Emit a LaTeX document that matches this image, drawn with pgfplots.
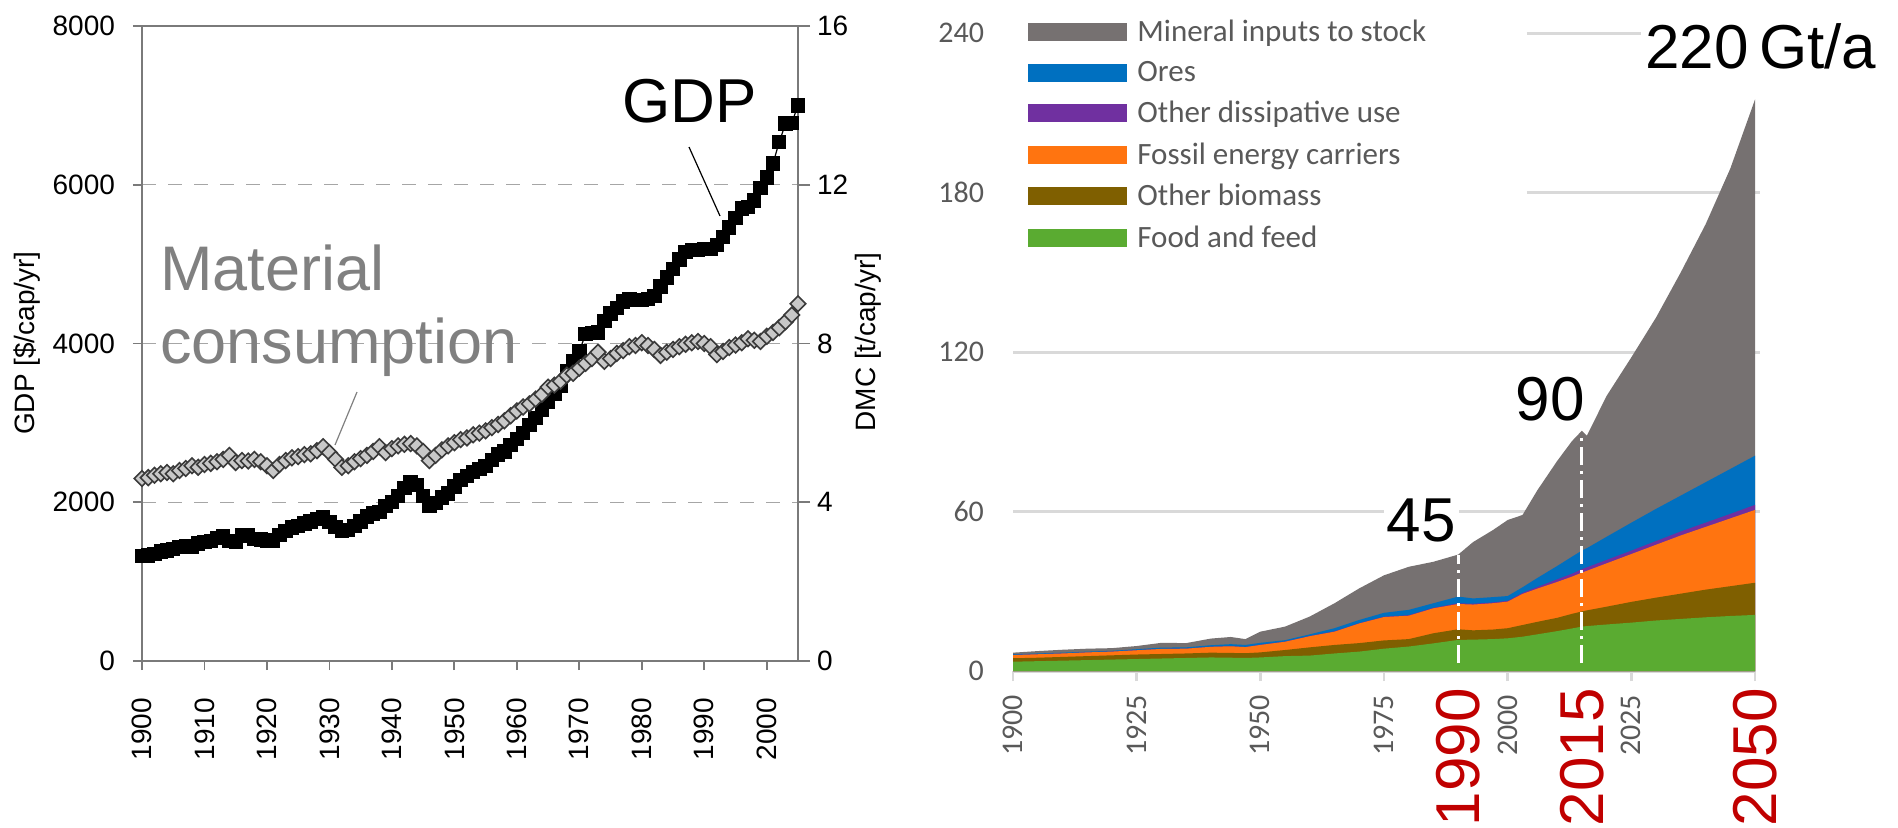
\documentclass[border=0pt]{standalone}
\usepackage{fontspec}
\setmainfont{Liberation Sans}
\newfontfamily\carlito{Carlito}
\usepackage{pgfplots}
\pgfplotsset{compat=1.18}
\usepackage{pgfplotstable}

\definecolor{axgray}{HTML}{7A7A7A}
\definecolor{gridgray}{HTML}{A6A6A6}
\definecolor{diafill}{HTML}{C8C8C8}
\definecolor{diadraw}{HTML}{3A3A3A}
\definecolor{matgray}{HTML}{808080}
\definecolor{lightgrid}{HTML}{D9D9D9}
\definecolor{tickgray}{HTML}{595959}
\definecolor{darkred}{HTML}{C00000}
\definecolor{cmineral}{HTML}{767171}
\definecolor{cores}{HTML}{0070C0}
\definecolor{cdiss}{HTML}{7030A0}
\definecolor{cfossil}{HTML}{FF7410}
\definecolor{cbiomass}{HTML}{7F5F00}
\definecolor{cfood}{HTML}{5AAB31}

\pgfplotstableread{
year gdp dmc
1900 1320 4.60
1901 1330 4.62
1902 1350 4.68
1903 1380 4.72
1904 1390 4.75
1905 1410 4.72
1906 1440 4.80
1907 1450 4.85
1908 1440 4.92
1909 1480 4.88
1910 1500 4.95
1911 1510 4.98
1912 1550 5.02
1913 1570 5.08
1914 1510 5.18
1915 1500 5.00
1916 1590 5.05
1917 1580 5.04
1918 1540 5.08
1919 1530 5.02
1920 1520 4.92
1921 1520 4.80
1922 1590 4.95
1923 1640 5.05
1924 1680 5.12
1925 1700 5.15
1926 1730 5.20
1927 1760 5.22
1928 1790 5.30
1929 1810 5.40
1930 1750 5.25
1931 1690 5.08
1932 1640 4.88
1933 1650 4.92
1934 1700 5.02
1935 1760 5.10
1936 1820 5.18
1937 1860 5.28
1938 1880 5.40
1939 1950 5.25
1940 2000 5.35
1941 2080 5.42
1942 2180 5.46
1943 2250 5.48
1944 2220 5.42
1945 2080 5.28
1946 1960 5.05
1947 1990 5.18
1948 2060 5.32
1949 2110 5.42
1950 2200 5.50
1951 2280 5.58
1952 2330 5.62
1953 2380 5.70
1954 2420 5.74
1955 2460 5.80
1956 2530 5.88
1957 2600 5.96
1958 2640 6.05
1959 2720 6.18
1960 2800 6.30
1961 2870 6.40
1962 2970 6.48
1963 3060 6.60
1964 3170 6.72
1965 3260 6.90
1966 3370 6.95
1967 3470 7.05
1968 3650 7.20
1969 3780 7.25
1970 3900 7.38
1971 4120 7.50
1972 4130 7.62
1973 4140 7.78
1974 4280 7.55
1975 4380 7.62
1976 4450 7.75
1977 4530 7.82
1978 4560 7.92
1979 4550 7.95
1980 4550 8.02
1981 4560 7.95
1982 4600 7.85
1983 4720 7.70
1984 4830 7.78
1985 4940 7.85
1986 5060 7.92
1987 5150 7.98
1988 5180 8.02
1989 5180 8.05
1990 5190 8.00
1991 5190 7.92
1992 5240 7.72
1993 5340 7.80
1994 5460 7.90
1995 5580 7.96
1996 5700 8.02
1997 5720 8.12
1998 5800 8.08
1999 5960 8.05
2000 6090 8.18
2001 6270 8.28
2002 6540 8.40
2003 6770 8.55
2004 6780 8.72
2005 7000 9.00
}\leftdata

\pgfplotstableread{
year G B O P U T
1900 3.5 4.8 6.0 6.05 6.3 6.9
1905 3.7 5.0 6.3 6.35 6.6 7.5
1910 3.9 5.3 6.6 6.65 6.9 8.0
1915 4.1 5.6 7.0 7.05 7.3 8.4
1920 4.3 5.9 7.3 7.35 7.6 8.6
1925 4.5 6.2 7.8 7.85 8.2 9.4
1930 4.7 6.4 8.3 8.35 8.8 10.6
1935 4.9 6.6 8.4 8.45 8.9 10.5
1940 5.1 6.9 9.1 9.15 9.7 12.2
1944 5.0 6.8 9.3 9.35 10.1 12.8
1947 4.9 6.7 9.0 9.05 9.8 12.0
1950 5.1 7.0 9.8 9.9 10.6 14.8
1955 5.6 7.9 11.0 11.1 11.6 16.7
1960 5.8 8.9 13.1 13.2 13.8 20.5
1965 6.6 9.8 14.8 14.95 16.1 25.5
1970 7.3 10.5 17.9 18.0 19.2 31.1
1975 8.4 11.5 20.3 20.45 21.9 36.0
1980 9.2 12.0 20.8 21.0 23.0 39.2
1985 10.4 14.2 23.6 23.8 25.5 41.1
1990 11.7 15.7 25.2 25.5 28.0 43.8
1993 11.8 15.3 25.0 25.3 27.3 48.5
1997 12.0 15.6 25.5 25.8 27.8 53.0
2000 12.3 16.1 26.1 26.4 28.2 56.8
2003 12.9 17.3 29.0 29.4 31.5 58.7
2006 13.8 18.5 31.0 31.6 35.0 68.0
2010 15.0 20.0 33.5 34.5 39.5 79.0
2013 16.0 21.5 35.5 36.6 43.0 86.5
2015 16.7 22.4 37.0 38.3 45.3 90.4
2016 16.9 22.8 37.7 39.0 46.2 88.5
2020 17.5 24.2 40.5 41.8 50.5 103.5
2025 18.2 26.0 44.0 45.3 55.8 118.0
2030 19.0 27.6 47.5 48.9 61.0 133.0
2035 19.6 29.1 51.0 52.5 66.0 150.0
2040 20.2 30.6 54.2 55.8 71.0 168.0
2045 20.7 31.9 57.4 59.1 76.0 189.0
2050 21.1 33.2 60.6 62.5 81.0 215.0
}\rightdata

\begin{document}
\begin{tikzpicture}
\useasboundingbox (0,0) rectangle (949pt,413.5pt);

% ---------- left panel: GDP ----------
\begin{axis}[
  at={(71pt,83pt)}, anchor=south west, scale only axis,
  width=328pt, height=317.5pt,
  xmin=1900, xmax=2005, ymin=0, ymax=8000,
  xtick={1900,1910,...,2000}, ytick={0,2000,...,8000},
  xtick pos=left, ytick pos=left, tick align=outside, major tick length=4.5pt,
  axis line style={draw=axgray, line width=0.9pt},
  every tick/.style={draw=axgray, line width=0.9pt},
  ymajorgrids, grid style={dash pattern=on 7pt off 6pt, draw=gridgray, line width=0.7pt},
  scaled ticks=false,
  /pgf/number format/1000 sep={},
  /pgf/number format/assume math mode=true,
  ticklabel style={font=\fontsize{14}{16}\selectfont},
  yticklabel style={xshift=-5.5pt},
  xticklabel style={rotate=90, anchor=east, xshift=-10.5pt},
  clip=false,
]
\addplot[black, line width=0.6pt, mark=square*, mark size=3.3pt,
  mark options={solid, fill=black}] table[x=year, y=gdp] {\leftdata};
\end{axis}

% ---------- left panel: DMC (right axis) ----------
\begin{axis}[
  at={(71pt,83pt)}, anchor=south west, scale only axis,
  width=328pt, height=317.5pt,
  xmin=1900, xmax=2005, ymin=0, ymax=16,
  hide x axis,
  y axis line style={draw=none},
  ytick={0,4,...,16}, ytick pos=right, tick align=outside, major tick length=6pt,
  every tick/.style={draw=axgray, line width=0.9pt},
  /pgf/number format/assume math mode=true,
  ticklabel style={font=\fontsize{14}{16}\selectfont},
  clip=false,
]
\addplot[diadraw, line width=0.5pt, mark=square*, mark size=2.75pt,
  mark options={solid, rotate=45, fill=diafill, draw=diadraw, line width=0.8pt}]
  table[x=year, y=dmc] {\leftdata};
\end{axis}

% ---------- right panel ----------
\begin{axis}[
  at={(506.5pt,78pt)}, anchor=south west, scale only axis,
  width=371pt, height=319pt,
  xmin=1900, xmax=2050, ymin=0, ymax=240,
  axis lines*=left,
  x axis line style={draw=lightgrid, line width=1.5pt, -},
  y axis line style={draw=none},
  xtick={1900,1925,...,2050},
  xticklabels={1900,1925,1950,1975,2000,2025,{}},
  ytick={0,60,...,240},
  tick align=outside, major tick length=5pt,
  xtick style={draw=lightgrid, line width=1.2pt},
  ytick style={draw=none},
  /pgf/number format/assume math mode=true,
  ticklabel style={font=\carlito\fontsize{15}{17}\selectfont, text=tickgray},
  yticklabel style={xshift=-6pt},
  xticklabel style={rotate=90, anchor=east, xshift=-3.5pt},
  extra x ticks={1990,2015,2050},
  extra x tick labels={1990,2015,2050},
  extra x tick style={major tick length=0pt,
     xticklabel style={font=\fontsize{31}{34}\selectfont, text=darkred, inner sep=0pt, xshift=-5pt}},
  clip=false,
  legend image code/.code={\fill[#1] (0pt,-4.5pt) rectangle (49.5pt,4.5pt);},
  legend cell align=left,
  legend style={at={(0.0202,1.028)}, anchor=north west, draw=none, fill=white,
     inner sep=0pt, row sep=4.5pt, column sep=3pt,
     font=\carlito\fontsize{15.5}{18}\selectfont,
     nodes={text=tickgray}},
]
% grid lines (legend and labels leave gaps)
\draw[lightgrid, line width=1.5pt] (axis cs:1900,60) -- (axis cs:2051,60);
\draw[lightgrid, line width=1.5pt] (axis cs:1900,120) -- (axis cs:2051,120);
\draw[lightgrid, line width=1.5pt] (axis cs:2003.9,180) -- (axis cs:2051,180);
\draw[lightgrid, line width=1.5pt] (axis cs:2003.9,240) -- (axis cs:2051,240);

\addplot[fill=cmineral, draw=none] table[x=year, y=T] {\rightdata} \closedcycle;
\addlegendentry{Mineral inputs to stock}
\addplot[fill=cores, draw=none] table[x=year, y=U] {\rightdata} \closedcycle;
\addlegendentry{Ores}
\addplot[fill=cdiss, draw=none] table[x=year, y=P] {\rightdata} \closedcycle;
\addlegendentry{Other dissipative use}
\addplot[fill=cfossil, draw=none] table[x=year, y=O] {\rightdata} \closedcycle;
\addlegendentry{Fossil energy carriers}
\addplot[fill=cbiomass, draw=none] table[x=year, y=B] {\rightdata} \closedcycle;
\addlegendentry{Other biomass}
\addplot[fill=cfood, draw=none] table[x=year, y=G] {\rightdata} \closedcycle;
\addlegendentry{Food and feed}

\addplot[white, line width=1.5pt, dash pattern=on 9pt off 3pt on 1.5pt off 3pt, forget plot]
  coordinates {(1990,3) (1990,43.6)};
\addplot[white, line width=1.5pt, dash pattern=on 9pt off 3pt on 1.5pt off 3pt, forget plot]
  coordinates {(2015,3) (2015,89.5)};

\node[fill=white, inner sep=1.5pt, font=\fontsize{31}{34}\selectfont] at (axis cs:1982.5,56.8) {45};
\node[inner sep=0pt, font=\fontsize{31}{34}\selectfont] at (axis cs:2008.6,102.3) {90};
\node[fill=white, inner sep=2pt, font=\fontsize{31}{34}\selectfont] at (axis cs:2051.2,235.1) {220\,Gt/a};
\end{axis}

% ---------- annotations, left panel ----------
\node[rotate=90, font=\fontsize{14}{16}\selectfont] at (13.5pt,242pt) {GDP [\$/cap/yr]};
\node[rotate=90, font=\fontsize{14}{16}\selectfont] at (434pt,242.5pt) {DMC [t/cap/yr]};
\node[anchor=base west, inner sep=0pt, text=matgray, font=\fontsize{31.5}{34}\selectfont] at (80pt,268.5pt) {Material};
\node[anchor=base west, inner sep=0pt, text=matgray, font=\fontsize{31.5}{34}\selectfont] at (80pt,232pt) {consumption};
\node[anchor=base west, inner sep=0pt, font=\fontsize{31}{34}\selectfont] at (311pt,352.5pt) {GDP};
\draw[black, line width=0.6pt] (344.5pt,340pt) -- (360pt,305.5pt);
\draw[matgray, line width=0.6pt] (178.5pt,217.5pt) -- (167.5pt,191pt);
\end{tikzpicture}
\end{document}
